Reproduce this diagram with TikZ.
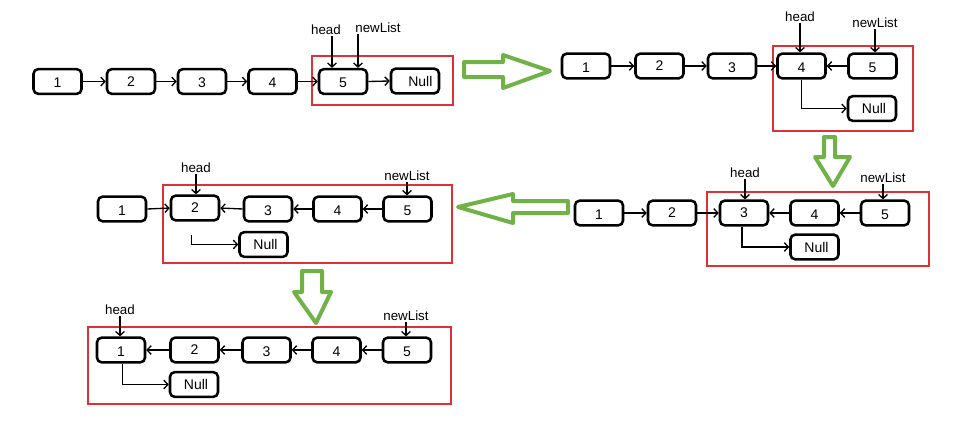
\documentclass[tikz,border=0pt]{standalone}
\usepackage{fontspec}
\setmainfont{Liberation Sans}
\usetikzlibrary{arrows.meta,calc}
\definecolor{frame}{RGB}{220,50,55}
\definecolor{grn}{RGB}{112,178,72}
\tikzset{
  cell/.style={draw, line width=1.9pt, rounded corners=3.5pt, minimum width=36pt, minimum height=18.5pt, inner sep=0pt, font=\fontsize{10.5}{12}\selectfont, text depth=0pt},
  lbl/.style={inner sep=1pt, font=\fontsize{10}{11}\selectfont},
  link/.style={line width=1pt, -{Straight Barb[length=3pt,width=6.5pt]}},
  redbox/.style={draw=frame, line width=1.1pt},
  bigarrow/.style={draw=grn, line width=3pt, line join=round, fill=white}
}
\begin{document}
\begin{tikzpicture}[x=0.75pt,y=-0.75pt]
\useasboundingbox (0,0) rectangle (961,432);

% ---------- Row 1 left ----------
\draw[redbox] (312,56) rectangle (453,105);
\node[cell] (a1) at (57.5,81.5) {\raisebox{-2pt}{1}};
\node[cell] (a2) at (131,81.5) {2};
\node[cell] (a3) at (202,81.5) {\raisebox{-2pt}{3}};
\node[cell] (a4) at (272.5,81.5) {\raisebox{-2pt}{4}};
\node[cell] (a5) at (343,81.5) {\raisebox{-2pt}{5}};
\node[cell] (an) at (415,81) {\hspace*{8pt}Null};
\node[lbl] (ah) at (326,30) {head};
\node[lbl] (al) at (378,28) {newList};
\draw[link] (a1.east) -- (a2.west);
\draw[link] (a2.east) -- (a3.west);
\draw[link] (a3.east) -- (a4.west);
\draw[link] (a4.east) -- (a5.west);
\draw[link] (a5.east) -- (an.west);
\draw[link] ([xshift=4.5pt]ah.south) -- ([xshift=4.5pt]ah.south |- a5.north);
\draw[link] ([xshift=-15pt]al.south) -- ([xshift=-15pt]al.south |- a5.north);

% ---------- Row 1 right ----------
\draw[redbox, line width=1.6pt] (773,46) rectangle (913,131);
\node[cell] (b1) at (586,66) {\raisebox{-2pt}{1}};
\node[cell] (b2) at (659.5,66) {2};
\node[cell] (b3) at (732,66) {\raisebox{-2pt}{3}};
\node[cell] (b4) at (801.5,66) {\raisebox{-2pt}{4}};
\node[cell] (b5) at (872.5,66) {\raisebox{-2pt}{5}};
\node[cell] (bn) at (872,108.5) {\hspace*{3pt}Null};
\node[lbl] (bh) at (800,17) {head};
\node[lbl] (bl) at (875,23) {newList};
\draw[link] (b1.east) -- (b2.west);
\draw[link] (b2.east) -- (b3.west);
\draw[link] (b3.east) -- (b4.west);
\draw[link] (b5.west) -- (b4.east);
\draw[link] (b4.south) |- (bn.west);
\draw[link] (bh.south) -- (bh.south |- b4.north);
\draw[link] (bl.south) -- (bl.south |- b5.north);

% ---------- Row 2 right ----------
\draw[redbox] (707,192) rectangle (929,266);
\node[cell] (c1) at (599,213) {\raisebox{-2pt}{1}};
\node[cell] (c2) at (672,213) {2};
\node[cell] (c3) at (744,213) {3};
\node[cell] (c4) at (814.5,213) {\raisebox{-2pt}{4}};
\node[cell] (c5) at (885,213) {\raisebox{-2pt}{5}};
\node[cell] (cn) at (814.5,247) {\hspace*{3pt}Null};
\node[lbl] (ch) at (745,173) {head};
\node[lbl] (cl) at (883,178) {newList};
\draw[link] (c1.east) -- (c2.west);
\draw[link] (c2.east) -- (c3.west);
\draw[link] (c4.west) -- (c3.east);
\draw[link] (c5.west) -- (c4.east);
\draw[link] ([xshift=-1.5pt]c3.south) |- (cn.west);
\draw[link] (ch.south) -- (ch.south |- c3.north);
\draw[link] (cl.south) -- (cl.south |- c5.north);

% ---------- Row 2 left ----------
\draw[redbox] (163,185) rectangle (452,263);
\node[cell] (d1) at (122,209) {\raisebox{-2pt}{1}};
\node[cell] (d2) at (195,208) {2};
\node[cell] (d3) at (268,209) {\raisebox{-2pt}{3}};
\node[cell] (d4) at (337.5,209) {\raisebox{-2pt}{4}};
\node[cell] (d5) at (407.5,209) {\raisebox{-2pt}{5}};
\node[cell] (dn) at (263.5,244.5) {\hspace*{3pt}Null};
\node[lbl] (dh) at (196,168) {head};
\node[lbl] (dl) at (407,176) {newList};
\draw[link] (d1.east) -- (d2.west);
\draw[link] (d3.west) -- (d2.east);
\draw[link] (d4.west) -- (d3.east);
\draw[link] (d5.west) -- (d4.east);
\draw[link] ([xshift=-2.5pt,yshift=-10pt]d2.south) |- (dn.west);
\draw[link] (dh.south) -- (dh.south |- d2.north);
\draw[link] (dl.south) -- (dl.south |- d5.north);

% ---------- Row 3 ----------
\draw[redbox] (88,327) rectangle (451,404);
\node[cell] (e1) at (121,350) {\raisebox{-2pt}{1}};
\node[cell] (e2) at (194.5,350) {2};
\node[cell] (e3) at (266.5,350) {\raisebox{-2pt}{3}};
\node[cell] (e4) at (336.5,350) {\raisebox{-2pt}{4}};
\node[cell] (e5) at (407,350) {\raisebox{-2pt}{5}};
\node[cell] (en) at (194,384.5) {\hspace*{3pt}Null};
\node[lbl] (eh) at (120,310) {head};
\node[lbl] (el) at (406,316) {newList};
\draw[link] (e2.west) -- (e1.east);
\draw[link] (e3.west) -- (e2.east);
\draw[link] (e4.west) -- (e3.east);
\draw[link] (e5.west) -- (e4.east);
\draw[link] ([xshift=1pt]e1.south) |- (en.west);
\draw[link] (eh.south) -- (eh.south |- e1.north);
\draw[link] (el.south) -- (el.south |- e5.north);

% ---------- Green transition arrows ----------
\draw[bigarrow] (464,62) -- (503,62) -- (503,55) -- (550,71) -- (503,88) -- (503,77) -- (464,77) -- cycle;
\draw[bigarrow] (824,137) -- (835,137) -- (835,157) -- (850,157) -- (833,186) -- (815,157) -- (824,157) -- cycle;
\draw[bigarrow] (568,201) -- (513,201) -- (513,194) -- (458,207) -- (513,223) -- (513,213) -- (568,213) -- cycle;
\draw[bigarrow] (302,271) -- (322,271) -- (322,292) -- (331,292) -- (316,323) -- (294,292) -- (302,292) -- cycle;
\end{tikzpicture}
\end{document}
